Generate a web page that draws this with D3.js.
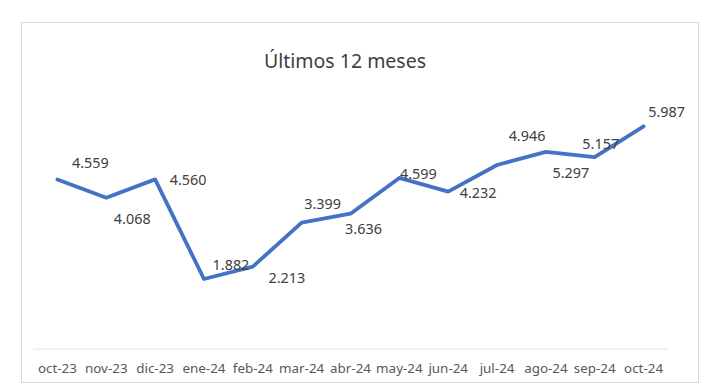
<!DOCTYPE html>
<html>
<head>
<meta charset="utf-8">
<script src="https://cdn.jsdelivr.net/npm/d3@7"></script>
<style>
  html, body { margin: 0; padding: 0; background: #fff; }
  svg { display: block; }
  text { font-family: "Noto Sans", "Open Sans", sans-serif; }
</style>
</head>
<body>
<svg id="chart" width="716" height="387"></svg>
<script>
// ---- data ----
const categories = ["oct-23","nov-23","dic-23","ene-24","feb-24","mar-24","abr-24","may-24","jun-24","jul-24","ago-24","sep-24","oct-24"];
const values = [4.559, 4.068, 4.560, 1.882, 2.213, 3.399, 3.636, 4.599, 4.232, 4.946, 5.297, 5.157, 5.987];
const valueLabels = ["4.559","4.068","4.560","1.882","2.213","3.399","3.636","4.599","4.232","4.946","5.297","5.157","5.987"];
const titleText = "Últimos 12 meses";

// ---- layout (label offsets relative to each point, in px) ----
const labelOffsets = [[33,-11],[26,26],[33,6],[27,-9],[34,16],[21,-14],[13,20],[19,1],[30,6],[30,-24],[25,26],[6,-8],[23,-9]];

const svg = d3.select("#chart");

// chart frame
svg.append("rect")
  .attr("x", 21.5).attr("y", 22.5).attr("width", 677).attr("height", 360)
  .attr("fill", "#fff").attr("stroke", "#d9d9d9").attr("stroke-width", 1);

// title
svg.append("text")
  .attr("x", 345).attr("y", 67.5)
  .attr("text-anchor", "middle")
  .attr("font-size", 19.5)
  .attr("fill", "#404040")
  .text(titleText);

const x = d3.scaleBand().domain(categories).range([33, 668]);
const y = d3.scaleLinear().domain([0, 7]).range([349, 88.6]);

// clip for axis labels (bottom cut like the reference)
svg.append("clipPath").attr("id", "clipAxis")
  .append("rect").attr("x", 0).attr("y", 0).attr("width", 716).attr("height", 373);

const xAxis = d3.axisBottom(x).tickSize(0).tickPadding(0);
const gx = svg.append("g")
  .attr("transform", "translate(0,348.5)")
  .attr("clip-path", "url(#clipAxis)")
  .call(xAxis);
gx.select(".domain").attr("stroke", "#d9d9d9").attr("stroke-width", 1);
gx.selectAll("text")
  .attr("dy", null)
  .attr("y", 24.5)
  .attr("font-size", 13.4)
  .attr("font-family", "\"Noto Sans\", sans-serif")
  .attr("fill", "#595959");

// line
const line = d3.line()
  .x((d, i) => x(categories[i]) + x.bandwidth() / 2)
  .y(d => y(d));

svg.append("path")
  .datum(values)
  .attr("d", line)
  .attr("fill", "none")
  .attr("stroke", "#4472c4")
  .attr("stroke-width", 3.8)
  .attr("stroke-linejoin", "round")
  .attr("stroke-linecap", "round");

// data labels
svg.append("g").selectAll("text")
  .data(values)
  .join("text")
  .attr("x", (d, i) => x(categories[i]) + x.bandwidth() / 2 + labelOffsets[i][0])
  .attr("y", (d, i) => y(d) + labelOffsets[i][1])
  .attr("text-anchor", "middle")
  .attr("font-size", 14.4)
  .attr("fill", "#404040")
  .text((d, i) => valueLabels[i]);
</script>
</body>
</html>
